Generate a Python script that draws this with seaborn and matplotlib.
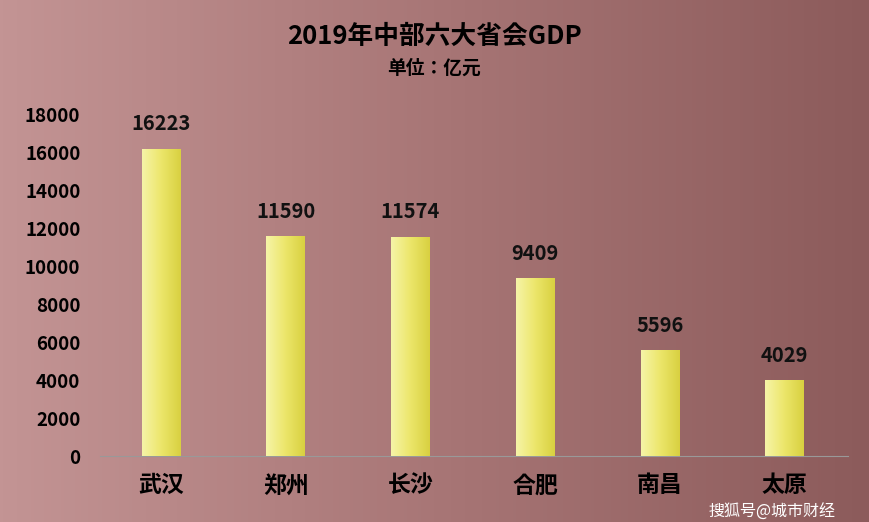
import numpy as np
import matplotlib
matplotlib.use("Agg")
import matplotlib.pyplot as plt
from matplotlib import font_manager
import seaborn as sns
import pandas as pd
from matplotlib.colors import LinearSegmentedColormap

cities = ["武汉", "郑州", "长沙", "合肥", "南昌", "太原"]
gdp = [16223, 11590, 11574, 9409, 5596, 4029]
yticks = list(range(0, 18001, 2000))

names = {f.name for f in font_manager.fontManager.ttflist}
cjk = [n for n in ["Noto Sans CJK SC", "Noto Sans CJK JP", "Noto Sans CJK TC", "Noto Sans CJK KR"] if n in names]
plt.rcParams["font.family"] = "sans-serif"
plt.rcParams["font.sans-serif"] = cjk + ["DejaVu Sans"]
plt.rcParams["axes.unicode_minus"] = False

fig = plt.figure(figsize=(8.69, 5.22), dpi=100)

bg = fig.add_axes([0, 0, 1, 1])
grad = np.linspace(0, 1, 256)[None, :]
bgcmap = LinearSegmentedColormap.from_list("bg", ["#c39494", "#a87676", "#8c5b5b"])
bg.imshow(grad, aspect="auto", cmap=bgcmap, extent=[0, 1, 0, 1])
bg.axis("off")

ax = fig.add_axes([0.115, 0.126, 0.861, 0.654])
ax.patch.set_alpha(0)
df = pd.DataFrame({"city": cities, "gdp": gdp})
sns.barplot(data=df, x="city", y="gdp", ax=ax, color="#eeea70", width=0.31, saturation=1)
barcmap = LinearSegmentedColormap.from_list("bar", ["#f6f4a8", "#ece66a", "#d8d040"])
for p in ax.patches:
    x0, y0, w, h = p.get_x(), p.get_y(), p.get_width(), p.get_height()
    im = ax.imshow(grad, aspect="auto", cmap=barcmap, extent=[x0, x0 + w, y0, y0 + h], zorder=3)
    im.set_clip_path(p)
for i, v in enumerate(gdp):
    ax.text(i, v + 750, str(v), ha="center", va="bottom", fontsize=14.5, fontweight="bold", color="#111111")
ax.set_xlim(-0.49, 5.51)
ax.set_ylim(0, 18000)
ax.set_yticks(yticks)
ax.set_yticklabels([str(t) for t in yticks], fontsize=13.5, fontweight="bold")
ax.set_xticklabels(cities, fontsize=16.5, fontweight="bold")
ax.set_xlabel("")
ax.set_ylabel("")
for s in ["top", "right", "left"]:
    ax.spines[s].set_visible(False)
ax.spines["bottom"].set_color("#999999")
ax.tick_params(axis="y", length=0, pad=14)
ax.tick_params(axis="x", length=0, pad=13)

fig.text(0.5, 0.930, "2019年中部六大省会GDP", ha="center", va="center", fontsize=18.5, fontweight="bold")
fig.text(0.5, 0.870, "单位：亿元", ha="center", va="center", fontsize=13.5, fontweight="bold")
fig.text(0.962, 0.018, "搜狐号@城市财经", ha="right", va="center", fontsize=11.5, color="white")

fig.savefig("out.png", dpi=100)
